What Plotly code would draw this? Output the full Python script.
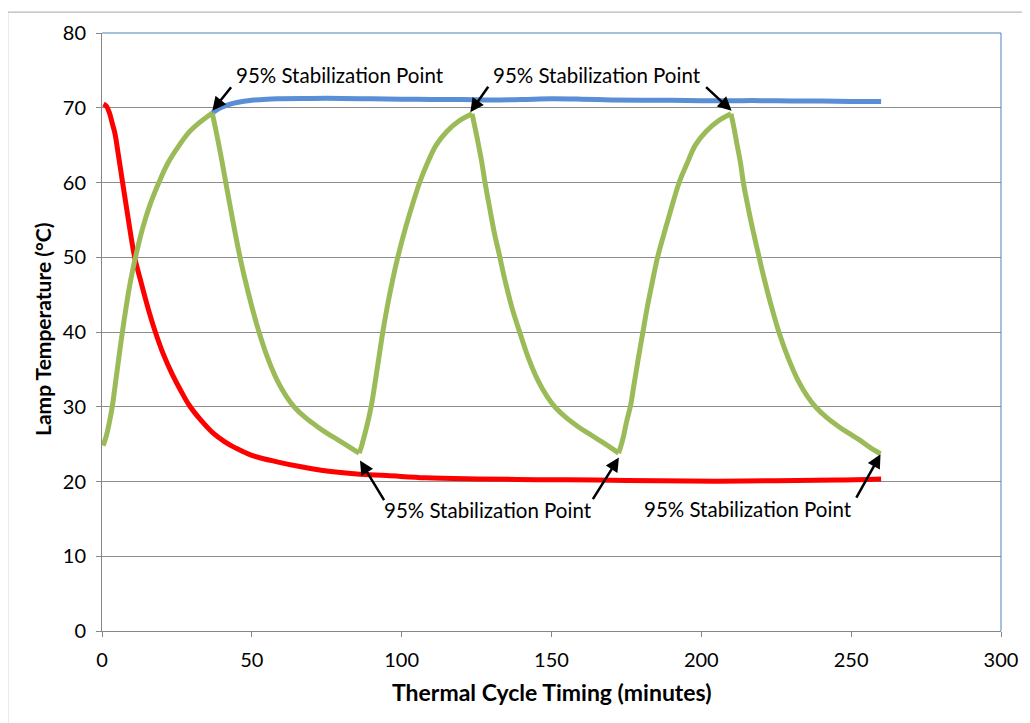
import plotly.graph_objects as go

# ---- data ----
green_t = [0.4, 1.5, 2.5, 3.5, 4.5, 5.5, 6.8, 8.0, 9.5, 11.4, 13.5, 16.0, 19.2, 22.0, 25.8, 29.0, 32.5, 36.8,
           37.8, 39.0, 40.0, 41.4, 43.0, 44.5, 45.8, 47.5, 50.0, 52.7, 55.5, 58.5, 61.5, 64.3, 68.0, 72.0, 75.3, 79.0, 83.0, 85.8,
           86.6, 87.4, 88.5, 89.9, 91.0, 92.3, 93.7, 95.2, 97.0, 98.7, 100.5, 102.5, 106.0, 108.5, 111.5, 115.0, 119.0, 123.5,
           124.5, 125.7, 126.7, 127.9, 129.5, 131.0, 132.5, 134.2, 136.7, 139.7, 142.5, 145.5, 148.5, 151.3, 155.0, 159.0, 162.5, 166.0, 169.5, 172.4,
           173.2, 174.0, 175.0, 176.4, 177.5, 178.9, 180.5, 182.0, 183.8, 185.4, 187.3, 189.3, 192.6, 195.2, 198.0, 201.5, 205.5, 209.9,
           210.9, 212.0, 213.0, 214.1, 215.8, 217.5, 219.0, 220.8, 223.4, 226.2, 229.2, 232.3, 235.4, 238.3, 242.0, 246.0, 249.5, 253.0, 256.5, 259.8]
green_v = [24.8, 26.2, 28.0, 30.2, 33.2, 36.2, 40.0, 43.2, 46.8, 50.4, 53.8, 57.0, 60.2, 62.6, 65.0, 66.7, 68.0, 69.3,
           67.4, 65.0, 62.9, 59.8, 56.3, 53.1, 50.5, 47.4, 43.4, 39.6, 36.3, 33.5, 31.4, 29.9, 28.5, 27.3, 26.4, 25.5, 24.5, 23.8,
           24.7, 25.9, 27.6, 30.2, 32.9, 36.3, 40.0, 43.4, 47.0, 50.0, 52.8, 55.6, 60.0, 62.5, 65.0, 66.8, 68.2, 69.2,
           67.3, 64.9, 62.8, 59.8, 56.3, 53.1, 50.5, 47.4, 43.4, 39.6, 36.3, 33.5, 31.4, 29.9, 28.5, 27.3, 26.4, 25.5, 24.6, 23.8,
           24.8, 26.0, 27.9, 30.2, 32.9, 36.3, 40.0, 43.4, 47.0, 50.0, 52.8, 55.6, 60.0, 62.5, 65.0, 66.8, 68.2, 69.2,
           67.3, 64.9, 62.8, 59.8, 56.3, 53.1, 50.5, 47.4, 43.4, 39.6, 36.3, 33.5, 31.4, 29.9, 28.5, 27.3, 26.4, 25.5, 24.5, 23.7]

red_t = [0.5, 1.5, 2.5, 3.5, 4.3, 5.5, 6.8, 8.5, 10.9, 13.0, 15.5, 17.8, 20.5, 23.5, 26.5, 29.1, 33.0, 37.0, 41.0, 44.5,
         50.0, 58.8, 66.0, 75.0, 85.0, 95.0, 108.0, 125.0, 145.0, 165.0, 185.0, 205.0, 225.0, 245.0, 260.0]
red_v = [70.5, 70.2, 69.3, 67.8, 66.6, 63.6, 60.2, 55.8, 50.0, 46.7, 43.0, 40.0, 37.0, 34.3, 32.0, 30.2, 28.2, 26.5, 25.3, 24.5,
         23.5, 22.6, 22.0, 21.4, 21.0, 20.8, 20.5, 20.35, 20.25, 20.2, 20.1, 20.05, 20.1, 20.2, 20.35]

blue_t = [36.8, 39.0, 42.0, 45.0, 50.0, 55.0, 60.0, 70.0, 80.0, 90.0, 100.0, 110.0, 120.0, 130.0, 140.0, 150.0,
          160.0, 170.0, 180.0, 190.0, 200.0, 210.0, 220.0, 230.0, 240.0, 250.0, 260.0]
blue_v = [69.3, 69.9, 70.4, 70.7, 71.0, 71.15, 71.2, 71.25, 71.25, 71.2, 71.15, 71.1, 71.1, 71.05, 71.1, 71.2,
          71.15, 71.05, 71.0, 71.0, 70.95, 70.95, 70.95, 70.9, 70.9, 70.85, 70.85]

x_ticks = [0, 50, 100, 150, 200, 250, 300]
y_ticks = [0, 10, 20, 30, 40, 50, 60, 70, 80]

label_text = "95% Stabilization Point"
x_title = "Thermal Cycle Timing (minutes)"
y_title = "Lamp Temperature (°C)"

FONT = "Lato"
GREEN = "#9BBB59"

fig = go.Figure()
fig.add_trace(go.Scatter(x=blue_t, y=blue_v, mode="lines", line_shape="spline",
                         line=dict(color="#5A8ED6", width=5), showlegend=False))
fig.add_trace(go.Scatter(x=red_t, y=red_v, mode="lines", line_shape="spline",
                         line=dict(color="#FF0000", width=5), showlegend=False))

# green series: split at its turning points so each monotone part is smoothed
# while the peaks and troughs stay sharp
breaks = [0]
for i in range(1, len(green_v) - 1):
    if (green_v[i] - green_v[i - 1]) * (green_v[i + 1] - green_v[i]) < 0:
        breaks.append(i)
breaks.append(len(green_v) - 1)
for a, b in zip(breaks[:-1], breaks[1:]):
    fig.add_trace(go.Scatter(x=green_t[a:b + 1], y=green_v[a:b + 1], mode="lines", line_shape="spline",
                             line=dict(color=GREEN, width=5), showlegend=False))

# text labels
for (tx, ty) in [(79.5, 74.4), (165.2, 74.4), (128.8, 16.2), (215.6, 16.3)]:
    fig.add_annotation(x=tx, y=ty, text=label_text, showarrow=False,
                       font=dict(family=FONT, size=20.5, color="#000000"))

# arrows (tip in data coords, tail offset in px)
for (px, py, ax, ay) in [(36.8, 69.6, 20, -25), (122.9, 69.4, 19, -27), (210.1, 69.6, -27, -25),
                         (86.1, 22.8, 25, 41), (172.5, 23.2, -27, 43), (259.8, 23.65, -25, 45)]:
    fig.add_annotation(x=px, y=py, ax=ax, ay=ay, text="", showarrow=True,
                       arrowhead=2, arrowsize=1.1, arrowwidth=2.5, arrowcolor="#000000", standoff=0)

# figure is drawn 8px in from the page corner (default body margin)
OFF = 8
L, T, R, B = 102 - OFF, 30 - OFF, 22, 92
W, H = 1030 - OFF, 723 - OFF
PW, PH = W - L - R, H - T - B

# axis titles
fig.add_annotation(xref="paper", yref="paper", x=0.5, y=(631 - 692) / PH, xanchor="center", yanchor="middle",
                   text="<b>" + x_title + "</b>",
                   showarrow=False, font=dict(family=FONT, size=23, color="#000000"))
fig.add_annotation(xref="paper", yref="paper", x=(42 - 102) / PW, y=(631 - 328) / PH,
                   xanchor="center", yanchor="middle",
                   text="<b>" + y_title + "</b>",
                   showarrow=False, textangle=-90, font=dict(family=FONT, size=21, color="#000000"))

# top and right plot-area border (blue)
fig.add_shape(type="line", xref="paper", yref="paper", x0=0, x1=1, y0=1, y1=1,
              line=dict(color="#4F81BD", width=1))
fig.add_shape(type="line", xref="paper", yref="paper", x0=1, x1=1, y0=0, y1=1,
              line=dict(color="#4F81BD", width=1))
# outer chart border
fig.add_shape(type="rect", xref="paper", yref="paper",
              x0=(7 - 102) / PW, x1=(1045 - 102) / PW, y0=(631 - 745) / PH, y1=(631 - 9) / PH,
              line=dict(color="#A6A6A6", width=1), layer="below")

fig.update_layout(
    width=W, height=H,
    margin=dict(l=L, r=R, t=T, b=B),
    paper_bgcolor="white", plot_bgcolor="white",
    font=dict(family=FONT, size=20, color="#000000"),
    xaxis=dict(range=[0, 300], tickvals=x_ticks, ticks="outside", ticklen=5, tickcolor="#868686",
               showgrid=False, zeroline=False, showline=True, linecolor="#868686", linewidth=1,
               tickfont=dict(family=FONT, size=20), ticklabelstandoff=6),
    yaxis=dict(range=[0, 80], tickvals=y_ticks, ticks="outside", ticklen=5, tickcolor="#868686",
               showgrid=True, gridcolor="#8C8C8C", gridwidth=1, zeroline=False,
               showline=True, linecolor="#868686", linewidth=1,
               tickfont=dict(family=FONT, size=20), ticklabelstandoff=6),
)

fig.write_html("out.html")
